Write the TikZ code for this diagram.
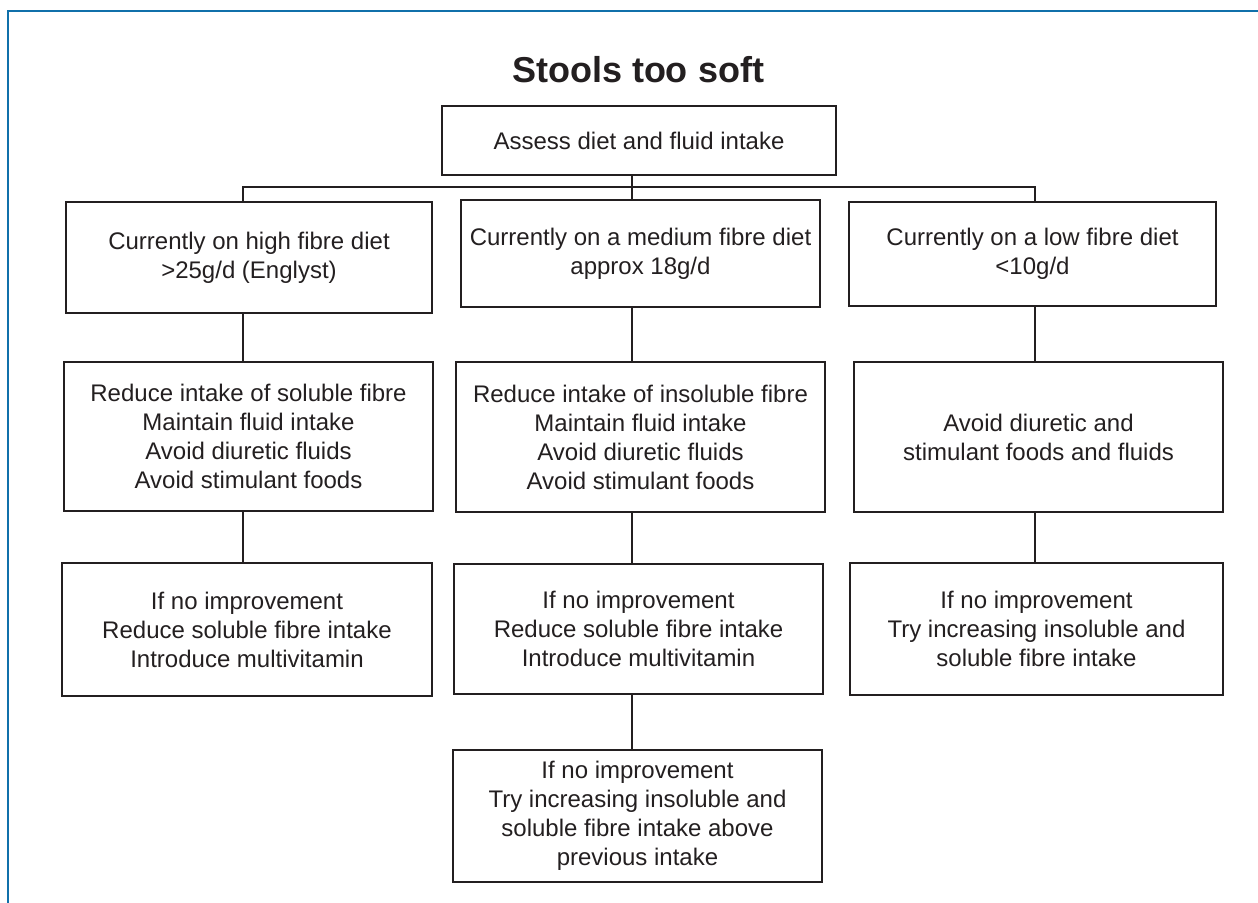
\documentclass[tikz,border=0pt]{standalone}
\usepackage{fontspec}
\setmainfont{Liberation Sans}
\usepackage{tikz}
\definecolor{frameblue}{RGB}{16,112,170}
\definecolor{boxline}{RGB}{35,31,32}

\tikzset{
  box/.style={draw=boxline,line width=1pt,align=center,inner sep=0pt,
    font=\fontsize{12}{14.5}\selectfont,text=boxline},
  link/.style={draw=boxline,line width=1pt}
}

\begin{document}
\begin{tikzpicture}[x=0.5pt,y=-0.5pt]
\useasboundingbox (0,0) rectangle (1258,903);
\draw [frameblue,line width=1.3pt] (8,903) -- (8,11) -- (1258,11);

\node [anchor=base,font=\fontsize{18}{20}\selectfont\bfseries,text=boxline] (title) at (638,83) {Stools too soft};

\node [box,minimum width=197pt,minimum height=34.5pt] (assess) at (639,140.5) {Assess diet and fluid intake};

\node [box,minimum width=183pt,minimum height=55.5pt] (high) at (249,257.5)
{Currently on high fibre diet\\>25g/d (Englyst)};
\node [box,minimum width=179.5pt,minimum height=53.5pt] (medium) at (640.5,253.5)
{Currently on a medium fibre diet\\approx 18g/d};
\node [box,minimum width=183.5pt,minimum height=52pt] (low) at (1032.5,254)
{Currently on a low fibre diet\\<10g/d};

\node [box,minimum width=184.5pt,minimum height=74.5pt] (highcut) at (248.5,436.5)
{Reduce intake of soluble fibre\\Maintain fluid intake\\Avoid diuretic fluids\\Avoid stimulant foods};
\node [box,minimum width=184.5pt,minimum height=75pt] (mediumcut) at (640.5,437)
{Reduce intake of insoluble fibre\\Maintain fluid intake\\Avoid diuretic fluids\\Avoid stimulant foods};
\node [box,minimum width=184.5pt,minimum height=75pt] (lowcut) at (1038.5,437)
{Avoid diuretic and\\stimulant foods and fluids};

\node [box,minimum width=185pt,minimum height=66.5pt] (highnext) at (247,629.5)
{If no improvement\\Reduce soluble fibre intake\\Introduce multivitamin};
\node [box,minimum width=184.5pt,minimum height=65pt] (mediumnext) at (638.5,629)
{If no improvement\\Reduce soluble fibre intake\\Introduce multivitamin};
\node [box,minimum width=186.5pt,minimum height=66pt] (lownext) at (1036.5,629)
{If no improvement\\Try increasing insoluble and\\soluble fibre intake};

\node [box,minimum width=184.5pt,minimum height=66pt] (mediumlast) at (637.5,816)
{If no improvement\\Try increasing insoluble and\\soluble fibre intake above\\previous intake};

\coordinate (barL) at (243,187);
\coordinate (barM) at (632,187);
\coordinate (barR) at (1035,187);

\draw [link] (barL |- high.north) -- (barL) -- (barR) -- (barR |- low.north);
\draw [link] (barM |- assess.south) -- (barM |- medium.north);
\draw [link] (barL |- high.south) -- (barL |- highcut.north);
\draw [link] (barL |- highcut.south) -- (barL |- highnext.north);
\draw [link] (barM |- medium.south) -- (barM |- mediumcut.north);
\draw [link] (barM |- mediumcut.south) -- (barM |- mediumnext.north);
\draw [link] (barM |- mediumnext.south) -- (barM |- mediumlast.north);
\draw [link] (barR |- low.south) -- (barR |- lowcut.north);
\draw [link] (barR |- lowcut.south) -- (barR |- lownext.north);
\end{tikzpicture}
\end{document}
